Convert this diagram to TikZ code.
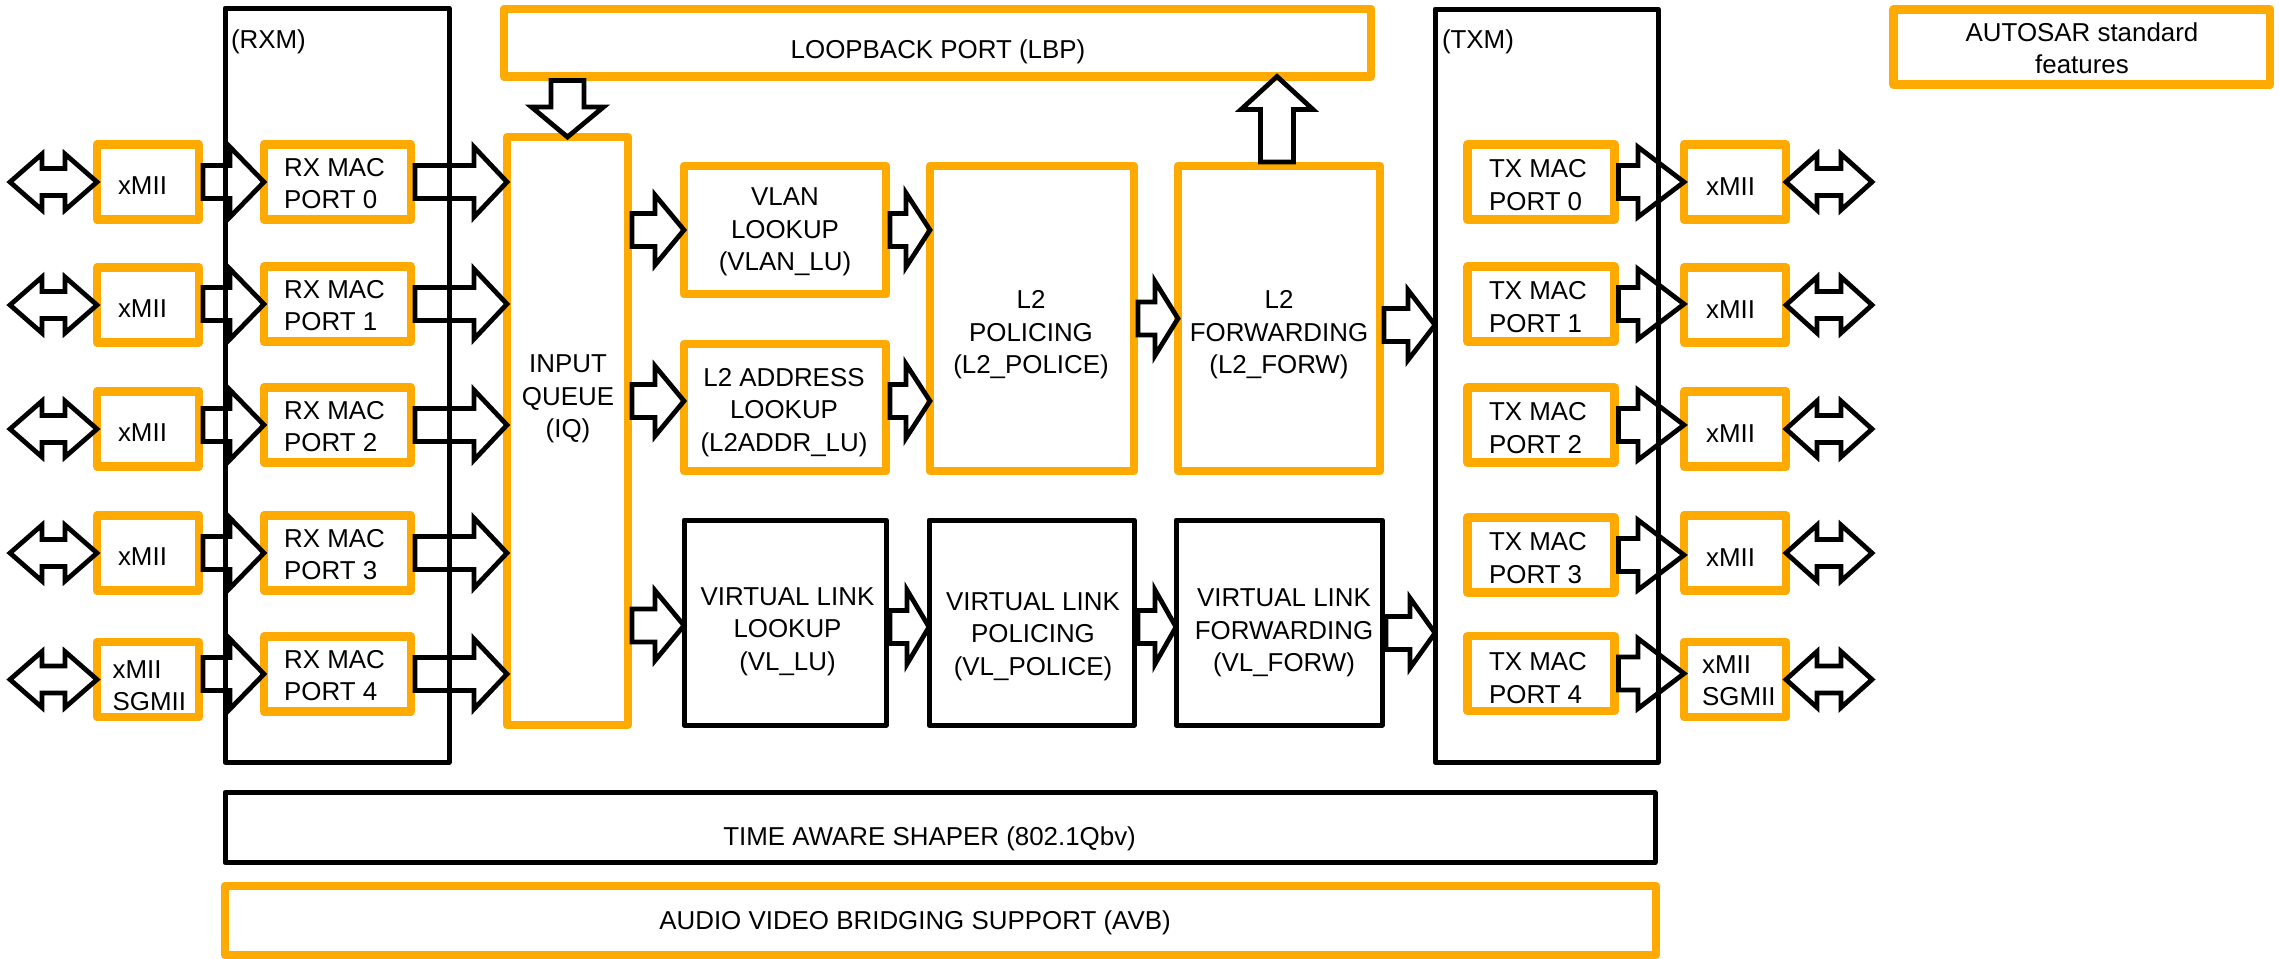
\documentclass[tikz,border=0pt]{standalone}
\usepackage{fontspec}
\setmainfont{Liberation Sans}
\usetikzlibrary{calc}
\definecolor{autosar}{RGB}{255,170,0}

% gap between a box border and the closed tail of a block arrow
\def\tg{4}
% outline block arrows: tail, tip, shaft half-width, head half-width, head length
\newcommand\arrR[5]{\draw[fatarrow] ($#1+(\tg,-#3)$) -- ($#2+(-#5,-#3)$) -- ($#2+(-#5,-#4)$) -- #2 -- ($#2+(-#5,#4)$) -- ($#2+(-#5,#3)$) -- ($#1+(\tg,#3)$) -- cycle;}
\newcommand\arrD[5]{\draw[fatarrow] ($#1+(-#3,\tg)$) -- ($#2+(-#3,-#5)$) -- ($#2+(-#4,-#5)$) -- #2 -- ($#2+(#4,-#5)$) -- ($#2+(#3,-#5)$) -- ($#1+(#3,\tg)$) -- cycle;}
\newcommand\arrU[5]{\draw[fatarrow] ($#1+(-#3,-\tg)$) -- ($#2+(-#3,#5)$) -- ($#2+(-#4,#5)$) -- #2 -- ($#2+(#4,#5)$) -- ($#2+(#3,#5)$) -- ($#1+(#3,-\tg)$) -- cycle;}
% double-headed outline arrow: left tip, right tip, shaft half-width, head half-width, head length
\newcommand\arrB[5]{\draw[fatarrow] #1 -- ($#1+(#5,-#4)$) -- ($#1+(#5,-#3)$) -- ($#2+(-#5,-#3)$) -- ($#2+(-#5,-#4)$) -- #2 -- ($#2+(-#5,#4)$) -- ($#2+(-#5,#3)$) -- ($#1+(#5,#3)$) -- ($#1+(#5,#4)$) -- cycle;}

\begin{document}
\begin{tikzpicture}[x=0.02cm,y=-0.02cm,
  every node/.style={font=\fontsize{14.74pt}{18.43pt}\selectfont, inner sep=0pt, outer sep=0pt},
  sz/.style 2 args={minimum width=#1*0.02cm, minimum height=#2*0.02cm},
  obox/.style={draw=autosar, line width=0.17cm, line join=round},
  kbox/.style={draw=black, line width=0.1cm, line join=round},
  fatarrow/.style={draw=black, line width=0.095cm, line join=miter},
  lbl/.style={align=center},
  lbll/.style={align=left}]
\useasboundingbox (0,0) rectangle (2279,958);

% receive and transmit modules
\node[kbox, sz={224}{754}] (RXM) at (337,385) {};
\node[anchor=base west] (RXMt) at (231,48) {(RXM)};
\node[kbox, sz={223}{753}] (TXM) at (1546.5,385.5) {};
\node[anchor=base west] (TXMt) at (1442,48) {(TXM)};

% port rows
\foreach \i/\yx/\ym/\yt in {0/182/182/182, 1/305/304/304, 2/429/425/425, 3/553/553/555}{
  \node[obox, sz={102}{75}] (xl\i) at (148,\yx) {};
  \node (xlt\i) at (142.5,\yx+4) {xMII};
  \node[obox, sz={147}{75}] (rx\i) at (337.5,\ym) {};
  \node[lbll] (rxt\i) at (334.5,\ym+1.5) {RX MAC\\PORT \i};
  \node[obox, sz={147}{75}] (tx\i) at (1541,\yt) {};
  \node[lbll] (txt\i) at (1538,\yt+3) {TX MAC\\PORT \i};
  \node[obox, sz={102}{75}] (xr\i) at (1735,\yx) {};
  \node (xrt\i) at (1730.5,\yx+4.5) {xMII};
}
\node[obox, sz={102}{75}] (xl4) at (148,679.5) {};
\node[lbll] (xlt4) at (149.3,686) {xMII\\SGMII};
\node[obox, sz={147}{75}] (rx4) at (337.5,674) {};
\node[lbll] (rxt4) at (334.5,675.5) {RX MAC\\PORT 4};
\node[obox, sz={147}{75}] (tx4) at (1541,673.5) {};
\node[lbll] (txt4) at (1538,678) {TX MAC\\PORT 4};
\node[obox, sz={102}{75}] (xr4) at (1735,679.5) {};
\node[lbll] (xrt4) at (1738.8,681) {xMII\\SGMII};

% switching core
\node[obox, sz={121}{588}] (IQ) at (567.5,431) {};
\node[lbl] (IQt) at (568,399) {INPUT\\QUEUE\\(IQ)};
\node[obox, sz={867}{67.5}] (LBP) at (937.5,42.75) {};
\node (LBPt) at (938,51.5) {LOOPBACK PORT (LBP)};
\node[obox, sz={376.5}{75}] (AUT) at (2081.75,47) {};
\node[lbl] (AUTt) at (2082,48) {AUTOSAR standard\\features};

\node[obox, sz={202}{128}] (VLAN) at (785,230) {};
\node[lbl] (VLANt) at (785,232) {VLAN\\LOOKUP\\(VLAN\_LU)};
\node[obox, sz={202}{127}] (L2A) at (785,407.5) {};
\node[lbl] (L2At) at (784,412.5) {L2 ADDRESS\\LOOKUP\\(L2ADDR\_LU)};
\node[obox, sz={204}{305}] (L2P) at (1032,318.5) {};
\node[lbl] (L2Pt) at (1031,335) {L2\\POLICING\\(L2\_POLICE)};
\node[obox, sz={202}{305}] (L2F) at (1279,318.5) {};
\node[lbl] (L2Ft) at (1279,335) {L2\\FORWARDING\\(L2\_FORW)};

\node[kbox, sz={202}{205}] (VLL) at (785,622.5) {};
\node[lbl] (VLLt) at (787.5,631.5) {VIRTUAL LINK\\LOOKUP\\(VL\_LU)};
\node[kbox, sz={205}{205}] (VLP) at (1031.5,622.5) {};
\node[lbl] (VLPt) at (1033,636.5) {VIRTUAL LINK\\POLICING\\(VL\_POLICE)};
\node[kbox, sz={206}{205}] (VLF) at (1279,622.5) {};
\node[lbl] (VLFt) at (1284,633) {VIRTUAL LINK\\FORWARDING\\(VL\_FORW)};

% shared services
\node[kbox, sz={1430}{70}] (TAS) at (940,827.5) {};
\node (TASt) at (929.6,839) {TIME AWARE SHAPER (802.1Qbv)};
\node[obox, sz={1431}{69}] (AVB) at (940.5,920.5) {};
\node (AVBt) at (915,922.5) {AUDIO VIDEO BRIDGING SUPPORT (AVB)};

% data paths through the ports
\foreach \i in {0,...,4}{
  \coordinate (dl\i) at ($(xl\i.west)+(-87,0)$);
  \coordinate (dr\i) at ($(xr\i.east)+(86,0)$);
  \arrB{(dl\i)}{(xl\i.west)}{13.5}{28}{32}
  \arrR{(xl\i.east |- rx\i.west)}{(rx\i.west)}{16.5}{35}{34}
  \arrR{(rx\i.east)}{(IQ.west |- rx\i.east)}{16.5}{35}{33}
  \arrR{(tx\i.east)}{(xr\i.west |- tx\i.east)}{16.5}{35}{46}
  \arrB{(xr\i.east)}{(dr\i)}{13.5}{28}{31}
}

% data paths through the core
\arrR{(IQ.east |- VLAN.west)}{(VLAN.west)}{16.5}{35}{29}
\coordinate (l2aIn) at ($(L2A.west)+(0,-6.5)$);
\arrR{(IQ.east |- l2aIn)}{(l2aIn)}{16.5}{35}{29}
\coordinate (vllIn) at ($(VLL.west)+(0,3)$);
\arrR{(IQ.east |- vllIn)}{(vllIn)}{16.5}{35}{29}
\arrR{(VLAN.east)}{(L2P.west |- VLAN.east)}{16.5}{37}{24}
\coordinate (l2aOut) at ($(L2A.east)+(0,-6.5)$);
\arrR{(l2aOut)}{(L2P.west |- l2aOut)}{16.5}{37}{24}
\arrR{(L2P.east)}{(L2F.west)}{16.5}{37}{23}
\coordinate (l2fOut) at ($(L2F.east)+(0,6.5)$);
\arrR{(l2fOut)}{(TXM.west |- l2fOut)}{16.5}{35}{27}
\coordinate (vllOut) at ($(VLL.east)+(0,4.5)$);
\arrR{(vllOut)}{(VLP.west |- vllOut)}{16.5}{37}{22}
\coordinate (vlpOut) at ($(VLP.east)+(0,4.5)$);
\arrR{(vlpOut)}{(VLF.west |- vlpOut)}{16.5}{37}{21}
\coordinate (vlfOut) at ($(VLF.east)+(0,10.5)$);
\arrR{(vlfOut)}{(TXM.west |- vlfOut)}{16.5}{35}{25}
\arrD{(IQ.north |- LBP.south)}{(IQ.north)}{16.5}{36}{30}
\coordinate (l2fUp) at ($(L2F.north)+(-2,0)$);
\arrU{(l2fUp)}{(l2fUp |- LBP.south)}{16.5}{36}{33}
\end{tikzpicture}
\end{document}
